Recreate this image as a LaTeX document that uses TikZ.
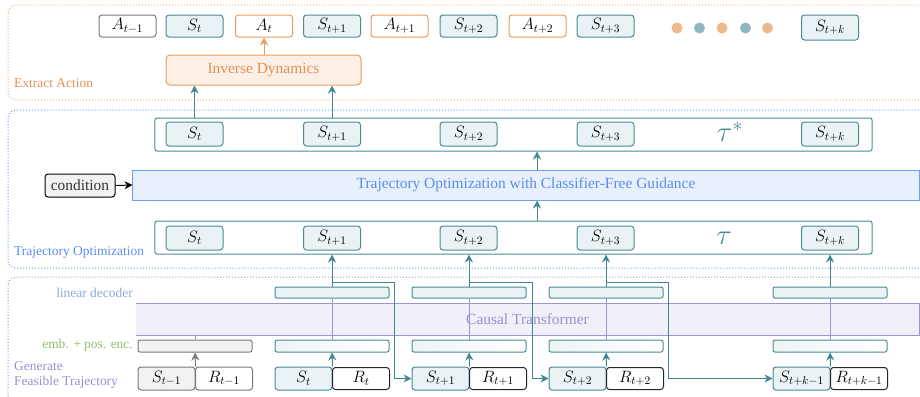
\RequirePackage{fix-cm}
\documentclass[tikz,border=0pt]{standalone}
\usepackage{fontspec}
\setmainfont{Liberation Serif}
\usetikzlibrary{arrows.meta,calc}
\definecolor{tealc}{HTML}{4A8A96}
\definecolor{tealf}{HTML}{E9F2F4}
\definecolor{teala}{HTML}{3F8793}
\definecolor{orc}{HTML}{EC9B5B}
\definecolor{orf}{HTML}{FCEFE5}
\definecolor{ort}{HTML}{E39052}
\definecolor{grc}{HTML}{7A7A7A}
\definecolor{grf}{HTML}{F2F2F2}
\definecolor{blc}{HTML}{6E9CF0}
\definecolor{blf}{HTML}{E8F0FD}
\definecolor{blt}{HTML}{5A8DEE}
\definecolor{puc}{HTML}{9E94D6}
\definecolor{puf}{HTML}{F1F0F8}
\definecolor{put}{HTML}{9A8FD0}
\definecolor{ldc}{HTML}{8FAAD9}
\definecolor{gnc}{HTML}{8DBF6C}
\definecolor{dotor}{HTML}{EDB88B}
\definecolor{dottl}{HTML}{8BB7C0}
\newcommand\fsmain{\fontsize{15.5}{18}\selectfont}
\newcommand\fsmath{\fontsize{16.5}{18}\selectfont}
\newcommand\fslab{\fontsize{13.5}{16}\selectfont}
\tikzset{
  tok/.style={draw=tealc, fill=tealf, rounded corners=3bp, line width=1bp, minimum width=57bp, minimum height=22bp, inner sep=0pt, font=\fsmath},
  act/.style={tok, draw=orc, fill=white},
  wtok/.style={tok, draw=black!85, fill=white},
  mtok/.style={tok, minimum height=24bp},
  btok/.style={tok, minimum height=23bp},
  trow/.style={draw=tealc, line width=1bp, rounded corners=2bp, minimum width=717bp, minimum height=33bp, inner sep=0pt},
  dec/.style={draw=tealc, fill=tealf, line width=1bp, rounded corners=2bp, minimum width=114bp, minimum height=11bp, inner sep=0pt},
  emb/.style={draw=tealc, left color=tealf!70!tealc!25, right color=white, line width=1bp, rounded corners=2bp, minimum width=114bp, minimum height=12bp, inner sep=0pt},
  tar/.style={draw=teala, line width=1bp, -{Stealth[length=8bp,width=8bp]}},
  gar/.style={draw=grc, line width=1bp, -{Stealth[length=8bp,width=8bp]}},
  oar/.style={draw=orc, line width=1bp, -{Stealth[length=8bp,width=8bp]}},
  bar/.style={draw=black, line width=1bp, -{Stealth[length=8bp,width=8bp]}},
  pln/.style={draw=puc, line width=0.9bp},
  sect/.style={line width=1bp, dotted, rounded corners=8bp},
  lab/.style={font=\fslab, inner sep=0pt},
  taulab/.style={text=tealc, font=\fontsize{29}{29}\selectfont, inner sep=0pt}
}
\begin{document}
\begin{tikzpicture}[x=1bp,y=-1bp]
\useasboundingbox (0,0) rectangle (920,396);
\clip (0,0) rectangle (920,396);
% sections
\draw[sect, draw=orc!80] (8,5) rectangle (940,100);
\draw[sect, draw=blc] (8,110) rectangle (940,268);
\draw[sect, draw=puc] (8,277) rectangle (940,420);
\node[lab, text=ort, anchor=west] (labEA) at (14,83) {Extract Action};
\node[lab, text=blt, anchor=west] (labTO) at (14,252) {Trajectory Optimization};
\node[lab, text=ldc, anchor=east] (labLD) at (133,293) {linear decoder};
\node[lab, text=gnc, anchor=east] (labEM) at (133,345) {emb. + pos. enc.};
\node[lab, text=put, anchor=west, align=left] (labGF) at (14,375) {Generate\\[-1bp]Feasible Trajectory};
% top row
\node[tok, draw=grc, fill=white] (a0) at (127.5,26) {$A_{t-1}$};
\node[tok] (s0) at (194.5,26) {$S_t$};
\node[act] (a1) at (264,26) {$A_t$};
\node[tok] (s1) at (332,26) {$S_{t+1}$};
\node[act] (a2) at (399.5,26) {$A_{t+1}$};
\node[tok] (s2) at (468.5,26) {$S_{t+2}$};
\node[act] (a3) at (537.5,26) {$A_{t+2}$};
\node[tok] (s3) at (605.5,26) {$S_{t+3}$};
\node[tok, minimum height=25bp] (sk) at (830,27.5) {$S_{t+k}$};
\fill[dotor] (677,28) circle (5.5bp);
\fill[dottl] (699.5,28) circle (5.5bp);
\fill[dotor] (722,28) circle (5.5bp);
\fill[dottl] (745.5,28) circle (5.5bp);
\fill[dotor] (767.5,28) circle (5.5bp);
\node[draw=orc, fill=orf, text=ort, line width=1bp, rounded corners=4bp, minimum width=195bp, minimum height=30bp, inner sep=0pt, font=\fsmain] (id) at (263.5,70) {Inverse Dynamics};
% tau* row
\node[trow] (taus) at (513.5,134.5) {};
\node[mtok] (n1) at (194.5,134) {$S_t$};
\node[mtok] (n2) at (332,134) {$S_{t+1}$};
\node[mtok] (n3) at (468.5,134) {$S_{t+2}$};
\node[mtok] (n4) at (605.5,134) {$S_{t+3}$};
\node[taulab] (tst) at (730,132) {$\tau^*$};
\node[mtok] (n5) at (830,134) {$S_{t+k}$};
% guidance
\node[draw=blc, fill=blf, text=blt, line width=1bp, minimum width=786bp, minimum height=30bp, inner sep=0pt, font=\fsmain] (guid) at (526,185) {Trajectory Optimization with Classifier-Free Guidance};
\node[draw=black, fill=grf, line width=1bp, rounded corners=3bp, minimum width=70bp, minimum height=23bp, inner sep=0pt, font=\fsmain, text=black!80] (cond) at (80,185.5) {condition};
% tau row
\node[trow] (tau) at (513.5,237.5) {};
\node[mtok] (m1) at (194.5,238) {$S_t$};
\node[mtok] (m2) at (332,238) {$S_{t+1}$};
\node[mtok] (m3) at (468.5,238) {$S_{t+2}$};
\node[mtok] (m4) at (605.5,238) {$S_{t+3}$};
\node[taulab] (tt) at (724,238) {$\tau$};
\node[mtok] (m5) at (830,238) {$S_{t+k}$};
% transformer band
\node[fill=puf, text=put, minimum width=783bp, minimum height=31bp, inner sep=0pt, font=\fsmain] (ct) at (527.5,319.5) {Causal Transformer};
\draw[draw=puc, line width=1bp] (ct.north west) -- (ct.north east) -- (ct.south east) -- (ct.south west);
% decoders
\node[dec] (dB) at (332,292.5) {};
\node[dec] (dC) at (469,292.5) {};
\node[dec] (dD) at (606,292.5) {};
\node[dec] (dE) at (830,292.5) {};
% embeddings
\node[emb, draw=grc, left color=grf, right color=grf] (eA) at (195,346) {};
\node[emb] (eB) at (332,346) {};
\node[emb] (eC) at (469,346) {};
\node[emb] (eD) at (606,346) {};
\node[emb] (eE) at (830,346) {};
% tokens
\node[btok, draw=grc, fill=grf] (sA) at (166.5,378.5) {$S_{t-1}$};
\node[btok, draw=grc, fill=white] (rA) at (224,378.5) {$R_{t-1}$};
\node[btok] (sB) at (303.5,378.5) {$S_t$};
\node[btok, wtok] (rB) at (361,378.5) {$R_t$};
\node[btok] (sC) at (440.5,378.5) {$S_{t+1}$};
\node[btok, wtok] (rC) at (498,378.5) {$R_{t+1}$};
\node[btok] (sD) at (577.5,378.5) {$S_{t+2}$};
\node[btok, wtok] (rD) at (635,378.5) {$R_{t+2}$};
\node[btok] (sE) at (801.5,378.5) {$S_{t+k-1}$};
\node[btok, wtok] (rE) at (859,378.5) {$R_{t+k-1}$};
% purple lines through band
\draw[pln] (eA.north) -- (eA.north |- ct.south);
\foreach \X in {B,C,D,E}{
  \draw[pln] (e\X.north) -- (d\X.south);
  \draw[tar] (s\X.north east) -- (e\X.south);
  \draw[tar] (d\X.north) -- (d\X.north |- tau.south);
}
\draw[gar] (sA.north east) -- (eA.south);
% branches
\draw[tar] ($(dB.north)+(0,-4)$) -| ($(sC.west)+(-17,0)$) -- (sC.west);
\draw[tar] ($(dC.north)+(0,-4)$) -| ($(sD.west)+(-16,0)$) -- (sD.west);
\draw[tar] ($(dD.north)+(0,-4)$) -| ($(sE.west)+(-104,0)$) -- (sE.west);
% guidance arrows
\coordinate (gx) at (537,0);
\draw[tar] (tau.north -| gx) -- (guid.south -| gx);
\draw[tar] (guid.north -| gx) -- (taus.south -| gx);
\draw[bar] (cond.east) -- (guid.west);
% up to inverse dynamics
\draw[tar] (taus.north -| n1) -- (id.south -| n1);
\draw[tar] (taus.north -| n2) -- (id.south -| n2);
\draw[oar] (id.north -| a1) -- (a1.south);
\end{tikzpicture}
\end{document}
